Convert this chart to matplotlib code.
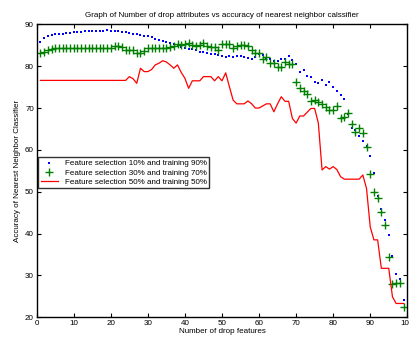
import numpy as np
import matplotlib
matplotlib.use("Agg")
import matplotlib.pyplot as plt

plt.rcParams['font.family'] = ['Liberation Sans', 'DejaVu Sans']

x_drop = np.arange(1, 100)

acc_fs10 = [85.8, 86.7, 87.2, 87.4, 87.6, 87.8, 87.8, 88.0, 88.0, 88.1,
            88.2, 88.2, 88.3, 88.3, 88.4, 88.4, 88.5, 88.5, 88.6, 88.5,
            88.4, 88.3, 88.2, 88.1, 88.0, 87.8, 87.6, 87.4, 87.2, 87.1,
            86.9, 86.6, 86.2, 86.0, 85.8, 85.6, 85.2, 84.9, 84.6, 84.3,
            84.2, 84.0, 83.8, 83.5, 83.3, 83.1, 82.9, 83.0, 82.6, 82.4,
            82.3, 82.5, 82.2, 82.4, 82.5, 82.2, 81.9, 81.7, 82.2, 82.8,
            82.6, 81.6, 81.7, 81.3, 81.2, 81.6, 81.8, 82.5, 81.4, 80.4,
            78.7, 79.0, 77.6, 77.3, 76.2, 76.0, 76.6, 75.6, 76.2, 75.0,
            74.0, 73.0, 72.1, 68.5, 65.2, 64.8, 63.3, 62.2, 61.0, 58.5,
            54.5, 49.0, 45.8, 43.3, 39.7, 34.6, 30.4, 29.1, 24.1]

acc_fs30 = [83.1, 83.5, 83.9, 84.2, 84.4, 84.4, 84.4, 84.4, 84.4, 84.4,
            84.4, 84.4, 84.4, 84.4, 84.4, 84.4, 84.4, 84.4, 84.4, 84.4,
            84.8, 84.8, 84.5, 83.8, 83.8, 83.8, 83.2, 83.2, 83.6, 84.3,
            84.4, 84.4, 84.4, 84.4, 84.4, 84.6, 84.9, 85.2, 85.0, 85.3,
            85.6, 85.0, 84.8, 85.1, 85.6, 84.7, 84.6, 84.5, 83.9, 85.2,
            85.3, 85.3, 84.3, 84.8, 85.0, 85.0, 84.8, 83.9, 83.2, 83.2,
            81.6, 82.3, 80.8, 80.8, 79.8, 79.8, 81.1, 80.4, 80.4, 76.3,
            74.7, 74.1, 73.4, 71.7, 71.8, 71.4, 71.0, 70.3, 69.5, 69.6,
            70.6, 67.7, 67.8, 68.7, 66.2, 64.3, 65.3, 64.0, 60.8, 54.3,
            50.0, 48.4, 45.1, 42.1, 34.5, 27.9, 28.1, 28.1, 22.4]

acc_fs50 = [76.6, 76.6, 76.6, 76.6, 76.6, 76.6, 76.6, 76.6, 76.6, 76.6,
            76.6, 76.6, 76.6, 76.6, 76.6, 76.6, 76.6, 76.6, 76.6, 76.6,
            76.6, 76.6, 76.6, 76.6, 77.5, 77.0, 75.9, 79.5, 78.7, 78.7,
            79.2, 80.3, 80.7, 81.3, 81.0, 80.3, 79.5, 80.3, 78.5, 77.1,
            74.7, 76.5, 76.5, 76.5, 77.5, 77.5, 77.5, 76.5, 77.5, 76.5,
            78.4, 75.1, 71.9, 71.0, 71.0, 71.0, 71.7, 71.0, 70.0, 70.0,
            70.5, 71.0, 71.0, 69.1, 71.0, 72.7, 71.6, 71.6, 67.5, 66.4,
            68.1, 68.1, 69.0, 69.9, 69.9, 66.4, 55.2, 56.0, 55.4, 56.0,
            55.3, 53.6, 53.0, 53.0, 53.0, 53.0, 53.0, 54.0, 50.8, 41.6,
            38.5, 38.5, 31.7, 31.7, 31.7, 24.9, 23.3, 23.3, 23.3]

labels = ["Feature selection 10% and training 90%",
          "Feature selection 30% and training 70%",
          "Feature selection 50% and training 50%"]

fig = plt.figure(figsize=(4.09, 3.4), dpi=100)
ax = fig.add_axes([0.0897, 0.0668, 0.9061, 0.8617])

ax.plot(x_drop, acc_fs10, linestyle='none', marker='s', color='#0000ff',
        markersize=1.6, markeredgewidth=0, label=labels[0])
ax.plot(x_drop, acc_fs30, linestyle='none', marker='+', color='#008000',
        markersize=6, markeredgewidth=1.0, label=labels[1])
ax.plot(x_drop, acc_fs50, linestyle='-', color='#ff0000', linewidth=0.9,
        label=labels[2])

ax.set_xlim(0, 100)
ax.set_ylim(20, 90)
ax.set_xticks(np.arange(0, 101, 10))
ax.set_yticks(np.arange(20, 91, 10))
ax.tick_params(direction='in', top=True, right=True, length=3, width=0.8,
               labelsize=5.8, pad=2)
for s in ax.spines.values():
    s.set_linewidth(1.0)

ax.set_title("Graph of Number of drop attributes vs accuracy of nearest neighbor calssifier",
             fontsize=5.8, pad=5)
ax.set_xlabel("Number of drop features", fontsize=5.8, labelpad=1)
ax.set_ylabel("Accuracy of Nearest Neighbor Classifier", fontsize=5.8, labelpad=3)

leg = ax.legend(loc='upper left', bbox_to_anchor=(0.004, 0.546), fontsize=5.8,
                frameon=True, fancybox=False, edgecolor='black',
                borderpad=0.3, labelspacing=0.2, handlelength=2.2,
                handletextpad=0.8, borderaxespad=0, markerscale=1.0)
leg.get_frame().set_linewidth(1.0)

fig.savefig("out.png", dpi=100)
